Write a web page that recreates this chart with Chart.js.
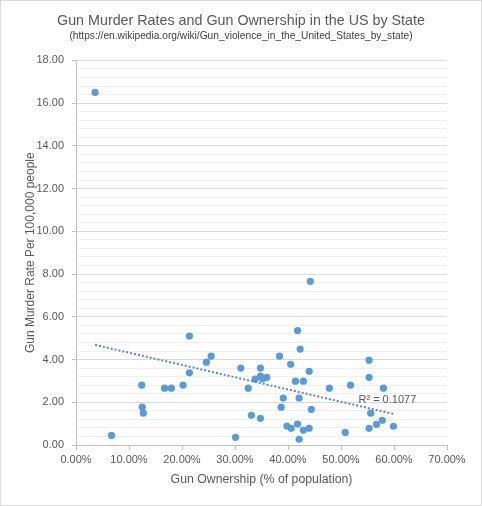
<!DOCTYPE html>
<html lang="en">
<head>
  <meta charset="UTF-8">
  <title>Gun Murder Rates and Gun Ownership in the US by State</title>
  <script src="https://cdn.jsdelivr.net/npm/chart.js"></script>
  <style>
    html, body {
      margin: 0;
      padding: 0;
      background: #fff;
    }
    #wrap {
      width: 482px;
      height: 506px;
      position: relative;
    }
  </style>
</head>
<body>

<div id="wrap">
  <canvas id="gunChart" width="482" height="506"></canvas>
</div>

<script>
  // Gun ownership (% of population) for each state
  const ownership = [3.6, 6.7, 12.4, 12.5, 12.7, 16.7, 18.0, 20.2, 21.4, 21.4,
    24.6, 25.5, 31.1, 30.1, 32.5, 33.1, 34.8, 33.8, 34.8, 35.2,
    36.0, 34.8, 38.4, 39.1, 38.7, 39.8, 40.6, 40.5, 41.4, 42.3,
    41.8, 42.1, 42.1, 42.9, 42.9, 44.0, 44.4, 44.0, 47.8, 44.2,
    41.8, 51.8, 55.3, 55.3, 58.0, 55.6, 50.8, 55.3, 56.7, 57.8, 59.9];

  // Gun murder rate per 100,000 people
  const murderRate = [16.5, 0.45, 2.8, 1.77, 1.49, 2.66, 2.66, 2.8, 5.1, 3.38,
    3.88, 4.16, 3.6, 0.36, 2.66, 1.39, 3.6, 3.08, 3.23, 3.1,
    3.17, 1.25, 4.16, 2.2, 1.77, 0.89, 0.78, 3.78, 2.99, 4.49,
    0.98, 0.27, 2.2, 2.99, 0.70, 3.45, 1.67, 0.78, 2.66, 7.66,
    5.36, 2.8, 3.97, 3.17, 2.66, 1.49, 0.59, 0.78, 0.97, 1.16, 0.88];

  const rSquaredText = 'R² = 0.1077';

  const textColor = '#595959';
  const fontName = "'Liberation Sans', Arial, sans-serif";

  // linear trendline (least squares) from the data
  const n = ownership.length;
  const meanX = ownership.reduce((a, b) => a + b, 0) / n;
  const meanY = murderRate.reduce((a, b) => a + b, 0) / n;
  let sxy = 0, sxx = 0;
  for (let i = 0; i < n; i++) {
    sxy += (ownership[i] - meanX) * (murderRate[i] - meanY);
    sxx += (ownership[i] - meanX) * (ownership[i] - meanX);
  }
  const slope = sxy / sxx;
  const intercept = meanY - slope * meanX;
  const xMin = Math.min(...ownership);
  const xMax = Math.max(...ownership);
  const trend = [
    { x: xMin, y: intercept + slope * xMin },
    { x: xMax, y: intercept + slope * xMax }
  ];

  const isMajor = v => Math.abs(v / 2 - Math.round(v / 2)) < 1e-6;

  // border round the chart + R² label next to trendline end
  const extras = {
    id: 'extras',
    afterDraw(chart) {
      const ctx = chart.ctx;
      ctx.save();
      ctx.strokeStyle = '#d9d9d9';
      ctx.lineWidth = 1;
      ctx.strokeRect(0.5, 0.5, chart.width - 1, chart.height - 1);

      const xs = chart.scales.x, ys = chart.scales.y;
      const ex = xs.getPixelForValue(trend[1].x);
      const ey = ys.getPixelForValue(trend[1].y);
      ctx.fillStyle = textColor;
      ctx.font = '11px ' + fontName;
      ctx.textBaseline = 'middle';
      ctx.fillText(rSquaredText, ex - 35, ey - 14);
      ctx.restore();
    }
  };

  const ctx = document.getElementById('gunChart').getContext('2d');
  new Chart(ctx, {
    type: 'scatter',
    data: {
      datasets: [
        {
          type: 'line',
          data: trend,
          borderColor: '#5b88c0',
          borderWidth: 2,
          borderDash: [2, 2],
          pointRadius: 0,
          fill: false
        },
        {
          data: ownership.map((x, i) => ({ x: x, y: murderRate[i] })),
          backgroundColor: '#5B9BD5',
          borderColor: '#5B9BD5',
          borderWidth: 0,
          pointRadius: 3.6
        }
      ]
    },
    options: {
      responsive: false,
      animation: false,
      devicePixelRatio: 1,
      layout: {
        padding: 0
      },
      plugins: {
        legend: { display: false },
        tooltip: { enabled: false },
        title: {
          display: true,
          text: 'Gun Murder Rates and Gun Ownership in the US by State',
          color: textColor,
          font: { family: fontName, size: 14.3, weight: 'normal' },
          padding: { top: 12, bottom: 0 }
        },
        subtitle: {
          display: true,
          text: '(https://en.wikipedia.org/wiki/Gun_violence_in_the_United_States_by_state)',
          color: '#404040',
          font: { family: fontName, size: 10.2 },
          padding: { top: 1, bottom: 18 }
        }
      },
      scales: {
        x: {
          type: 'linear',
          min: 0,
          max: 70,
          ticks: {
            stepSize: 10,
            color: textColor,
            font: { family: fontName, size: 11 },
            padding: 3,
            callback: v => v.toFixed(2) + '%'
          },
          grid: {
            drawOnChartArea: false,
            drawTicks: true,
            tickLength: 5,
            tickColor: '#bfbfbf'
          },
          border: { color: '#bfbfbf' },
          title: {
            display: true,
            text: 'Gun Ownership (% of population)',
            color: textColor,
            font: { family: fontName, size: 12.3 },
            padding: { top: 3, bottom: 19 }
          }
        },
        y: {
          min: 0,
          max: 18,
          afterFit(scale) { scale.width = 76; },
          ticks: {
            stepSize: 0.4,
            autoSkip: false,
            color: textColor,
            font: { family: fontName, size: 11 },
            padding: 8,
            callback: v => isMajor(v) ? v.toFixed(2) : ''
          },
          grid: {
            tickLength: 4,
            color: c => isMajor(c.tick.value) ? '#d9d9d9' : '#f0f0f0',
            tickColor: c => isMajor(c.tick.value) ? '#bfbfbf' : 'rgba(0,0,0,0)'
          },
          border: { color: '#bfbfbf' },
          title: {
            display: true,
            text: 'Gun Murder Rate Per 100,000 people',
            color: textColor,
            font: { family: fontName, size: 12 },
            padding: { top: 23, bottom: 0 }
          }
        },
        // empty right-hand axis, only to keep the plot area clear of the right edge
        yPad: {
          position: 'right',
          display: true,
          afterFit(scale) { scale.width = 35; },
          ticks: { display: false },
          grid: { display: false, drawTicks: false },
          border: { display: false }
        }
      }
    },
    plugins: [extras]
  });
</script>

</body>
</html>
